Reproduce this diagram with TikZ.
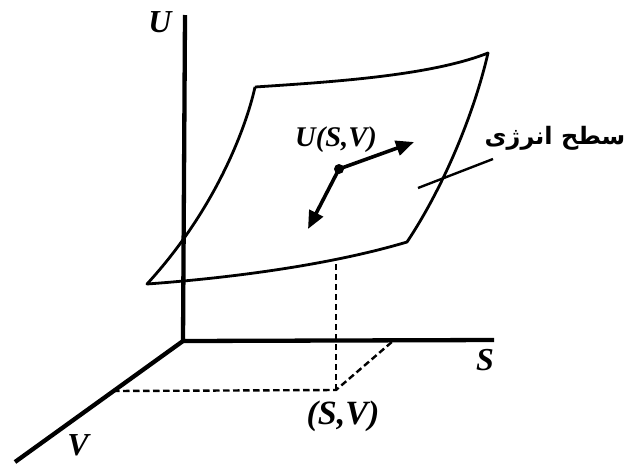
\documentclass[tikz,border=0pt]{standalone}
\usepackage{fontspec}
\setmainfont{Liberation Serif}
\newfontfamily\arabicfont[Script=Arabic]{DejaVu Sans}
\TeXXeTstate=1
\usetikzlibrary{arrows.meta}
\begin{document}
\begin{tikzpicture}[x=1pt,y=-1pt,
  axis/.style={line width=4.3pt},
  surf/.style={line width=2.8pt,line join=round},
  dsh/.style={line width=2.4pt,dash pattern=on 6.5pt off 3.5pt},
  vec/.style={line width=3.6pt,-{Triangle[length=18pt,width=15pt]}},
  lbl/.style={inner sep=0pt,font=\bfseries\itshape\fontsize{32}{34}\selectfont},
  leader/.style={line width=2.4pt}]
\useasboundingbox (0,0) rectangle (628,464);
% axes
\coordinate (O) at (183,341);
\coordinate (Utop) at (185,15);
\coordinate (Send) at (494,340);
\coordinate (Vend) at (15,462);
\draw[axis] (Utop) -- (O) -- (Send);
\draw[axis] (O) -- (Vend);
% surface
\coordinate (TL) at (255,87);
\coordinate (TR) at (488,53);
\coordinate (BR) at (407,242);
\coordinate (BL) at (147,284);
\draw[surf] (TL) .. controls (330,82) and (430,76) .. (TR)
  .. controls (475,110) and (445,185) .. (BR)
  .. controls (330,265) and (230,278) .. (BL)
  .. controls (215,210) and (246,128) .. (TL);
% dashed projection
\coordinate (P) at (336,390);
\coordinate (A) at (113,391);
\coordinate (B) at (393,341);
\coordinate (Q) at (336,262);
\draw[dsh] (A) -- (P) -- (B);
\draw[dsh] (P) -- (Q);
% point and vectors
\coordinate (D) at (339,169);
\coordinate (E1) at (414,142);
\coordinate (E2) at (308,229);
\draw[vec] (D) -- (E1);
\draw[vec] (D) -- (E2);
\fill (D) circle (5pt);
% leader line
\coordinate (L1) at (418,188);
\coordinate (L2) at (493,159);
\draw[leader] (L1) -- (L2);
% labels
\node[lbl] (lU) at (160,22) {U};
\node[lbl] (lS) at (485,360) {S};
\node[lbl] (lV) at (78,445) {V};
\node[lbl,font=\bfseries\itshape\fontsize{28.5}{30}\selectfont] (lUSV) at (336,140) {U(S,V)};
\node[lbl,font=\bfseries\itshape\fontsize{34}{36}\selectfont] (lSV) at (343,416) {(S,V)};
\node[inner sep=0pt,font=\arabicfont\bfseries\fontsize{24}{28}\selectfont] (lE) at (555,138) {\beginR سطح انرژی\endR};
\end{tikzpicture}
\end{document}
